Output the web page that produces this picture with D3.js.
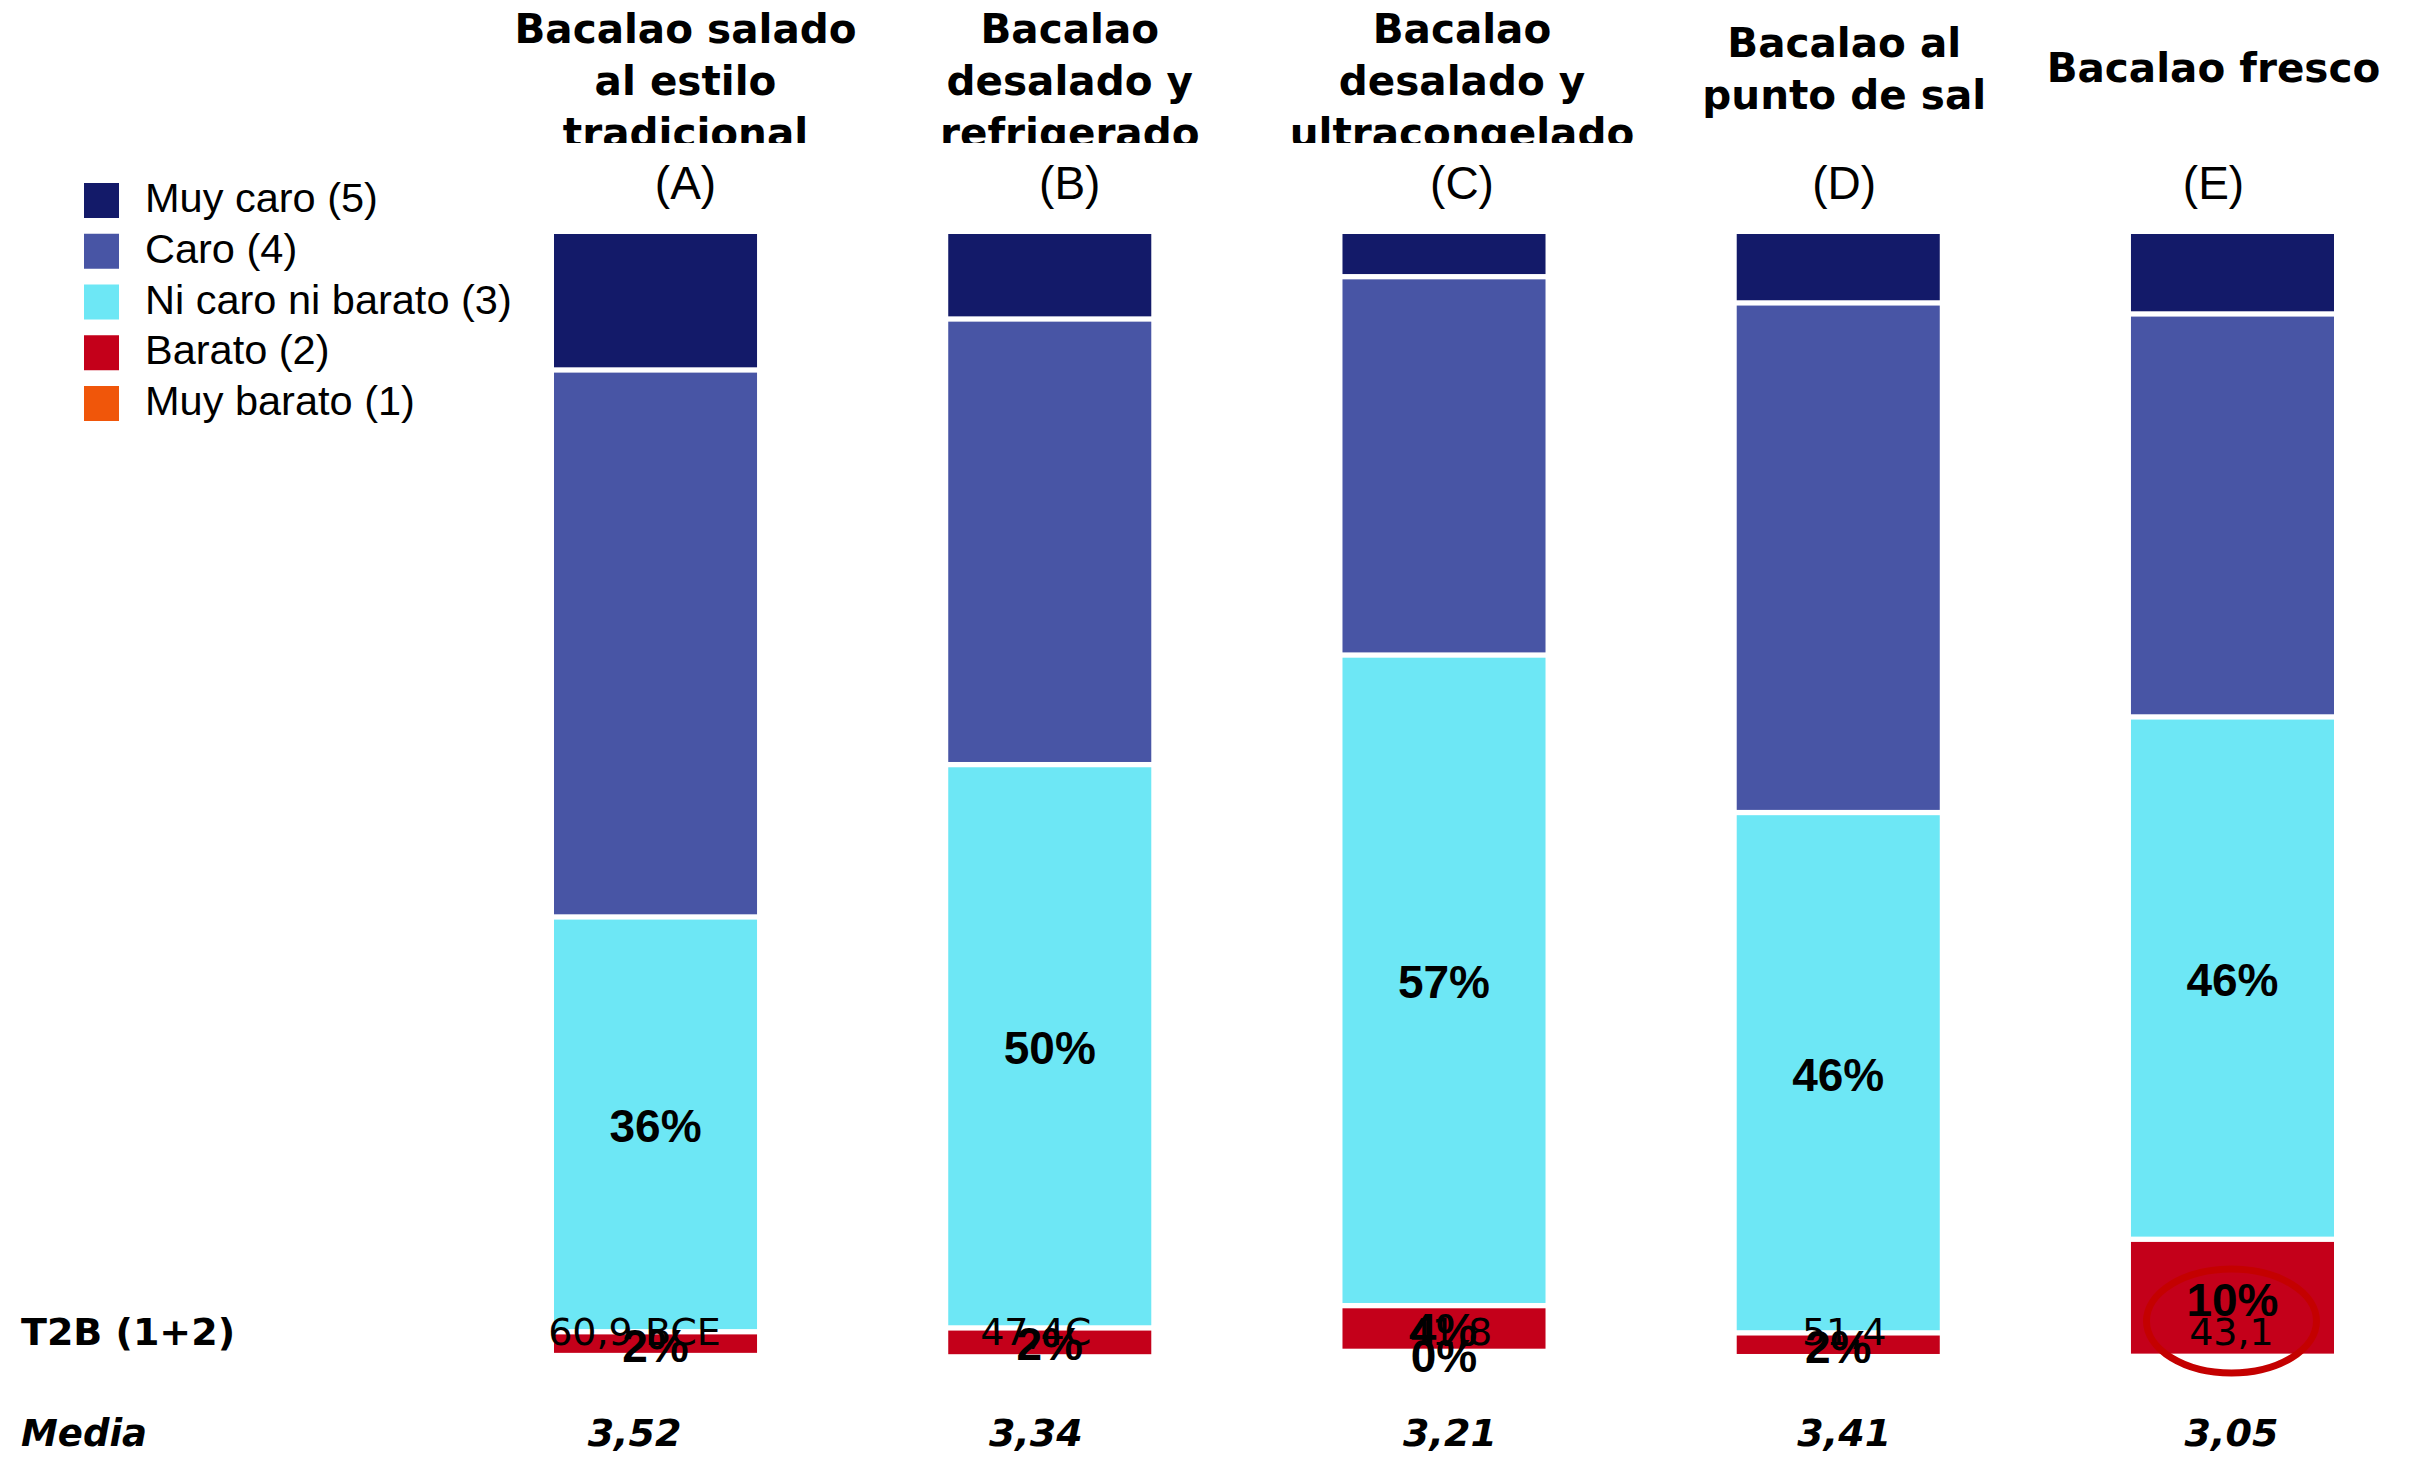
<!DOCTYPE html>
<html>
<head>
<meta charset="utf-8">
<script src="https://cdn.jsdelivr.net/npm/d3@7"></script>
<style>
  html, body { margin: 0; padding: 0; background: #fff; }
  svg { display: block; }
</style>
</head>
<body>
<svg id="chart" width="2413" height="1461"></svg>
<script>
const categories = ['A', 'B', 'C', 'D', 'E'];
const productTitles = [
  ['Bacalao salado', 'al estilo', 'tradicional'],
  ['Bacalao', 'desalado y', 'refrigerado'],
  ['Bacalao', 'desalado y', 'ultracongelado'],
  ['Bacalao al', 'punto de sal'],
  ['Bacalao fresco']
];
const seriesNames = ['Muy caro (5)', 'Caro (4)', 'Ni caro ni barato (3)', 'Barato (2)', 'Muy barato (1)'];
const seriesColors = ['#131a69', '#4855a5', '#6de7f5', '#c4001a', '#f0560a'];

// percentages per product, top of the bar downwards
const muyCaro = [11.85, 7.32, 3.56, 5.89, 6.87];
const caro = [48.15, 39.14, 33.16, 44.83, 35.35];
const niCaroNiBarato = [36.4, 49.6, 57.36, 45.78, 45.96];
const barato = [1.64, 2.1, 3.59, 1.64, 9.93];
const muyBarato = [null, null, 0, null, null];

const labelledSeries = [2, 3, 4];
const t2bLabels = ['60,9 BCE', '47,4C', '41,8', '51,4', '43,1'];
const mediaLabels = ['3,52', '3,34', '3,21', '3,41', '3,05'];
const circled = ['E'];

(function () {
  const svg = d3.select('#chart');
  const series = [muyCaro, caro, niCaroNiBarato, barato, muyBarato];

  const x = d3.scaleBand()
    .domain(categories)
    .range([554, 2334])
    .paddingInner(0.485)
    .paddingOuter(0);

  const y = d3.scaleLinear().domain([0, 100]).range([234, 1359]);
  const gap = 5.3;

  // header/stat text sits a little off the bar centres in the original
  const headNudge = [30, 20, 18, 6, -19];
  const statNudge = [-21, -14, 6, 6, -1];
  const cx = (c) => x(c) + x.bandwidth() / 2;

  const segments = [];
  categories.forEach((c, ci) => {
    let cum = 0;
    series.forEach((values, si) => {
      const v = values[ci];
      if (v === null) { return; }
      segments.push({ cat: c, si, value: v, y0: y(cum) + si * gap, y1: y(cum + v) + si * gap });
      cum += v;
    });
  });

  svg.append('g')
    .selectAll('rect')
    .data(segments)
    .join('rect')
    .attr('x', d => x(d.cat))
    .attr('width', x.bandwidth())
    .attr('y', d => d.y0)
    .attr('height', d => d.y1 - d.y0)
    .attr('fill', d => seriesColors[d.si]);

  // titles, clipped like the original text boxes
  svg.append('defs').append('clipPath').attr('id', 'title-clip')
    .append('rect').attr('x', 0).attr('y', 0).attr('width', 2413).attr('height', 143);

  const titles = svg.append('g').attr('clip-path', 'url(#title-clip)');
  categories.forEach((c, ci) => {
    const lines = productTitles[ci];
    const first = lines.length === 3 ? 43 : 82 - (lines.length - 1) * 25.5;
    titles.append('text')
      .attr('x', cx(c) + headNudge[ci])
      .attr('text-anchor', 'middle')
      .style('font', 'bold 40.5px "DejaVu Sans", Verdana, sans-serif')
      .attr('fill', '#000')
      .selectAll('tspan')
      .data(lines)
      .join('tspan')
      .attr('x', cx(c) + headNudge[ci])
      .attr('y', (d, i) => first + i * 52)
      .text(d => d);
  });

  svg.append('g')
    .selectAll('text')
    .data(categories)
    .join('text')
    .attr('x', (d, i) => cx(d) + headNudge[i])
    .attr('y', 199)
    .attr('text-anchor', 'middle')
    .style('font', '46px "Liberation Sans", Arial, sans-serif')
    .text(d => `(${d})`);

  // legend
  const legend = svg.append('g')
    .selectAll('g')
    .data(seriesNames)
    .join('g')
    .attr('transform', (d, i) => `translate(84,${183 + i * 50.75})`);
  legend.append('rect')
    .attr('width', 35)
    .attr('height', 35)
    .attr('fill', (d, i) => seriesColors[i]);
  legend.append('text')
    .attr('x', 61)
    .attr('y', 29)
    .style('font', '41.5px "Liberation Sans", Arial, sans-serif')
    .text(d => d);

  // stats rows
  const t2bY = 1345;
  const mediaY = 1446;
  svg.append('text')
    .attr('x', 21).attr('y', t2bY)
    .style('font', 'bold 38px "DejaVu Sans", Verdana, sans-serif')
    .text('T2B (1+2)');
  svg.append('text')
    .attr('x', 21).attr('y', mediaY)
    .style('font', 'italic bold 37px "DejaVu Sans", Verdana, sans-serif')
    .text('Media');

  svg.append('g')
    .selectAll('text')
    .data(categories)
    .join('text')
    .attr('x', (d, i) => cx(d) + statNudge[i])
    .attr('y', t2bY)
    .attr('text-anchor', 'middle')
    .style('font', '38px "DejaVu Sans", Verdana, sans-serif')
    .text((d, i) => t2bLabels[i]);

  svg.append('g')
    .selectAll('text')
    .data(categories)
    .join('text')
    .attr('x', (d, i) => cx(d) + statNudge[i])
    .attr('y', mediaY)
    .attr('text-anchor', 'middle')
    .style('font', 'italic bold 38px "DejaVu Sans", Verdana, sans-serif')
    .text((d, i) => mediaLabels[i]);

  // percentage labels
  svg.append('g')
    .selectAll('text')
    .data(segments.filter(d => labelledSeries.includes(d.si)))
    .join('text')
    .attr('x', d => cx(d.cat))
    .attr('y', d => (d.y0 + d.y1) / 2 + 2)
    .attr('text-anchor', 'middle')
    .attr('dominant-baseline', 'central')
    .style('font', 'bold 46px "Liberation Sans", Arial, sans-serif')
    .text(d => `${Math.round(d.value)}%`);

  svg.append('g')
    .selectAll('ellipse')
    .data(circled)
    .join('ellipse')
    .attr('cx', d => cx(d) - 1)
    .attr('cy', t2bY - 24)
    .attr('rx', 85)
    .attr('ry', 52)
    .attr('fill', 'none')
    .attr('stroke', '#c40000')
    .attr('stroke-width', 7);
})();
</script>
</body>
</html>
